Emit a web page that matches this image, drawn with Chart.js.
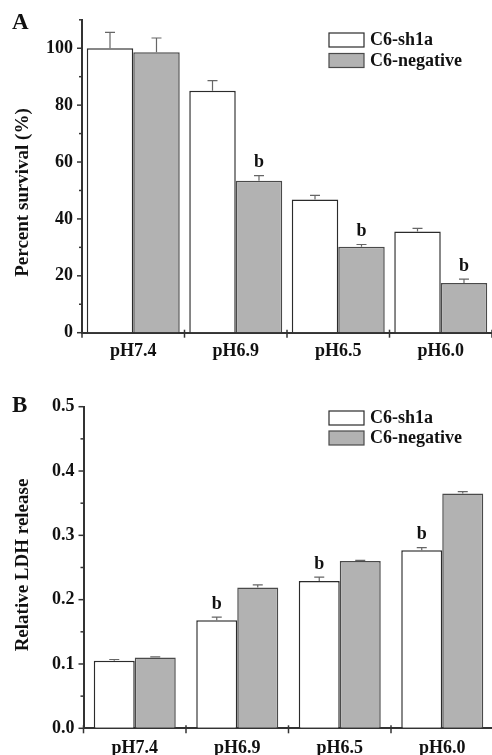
<!DOCTYPE html>
<html><head><meta charset="utf-8">
<script src="https://cdn.jsdelivr.net/npm/chart.js@4.4.1/dist/chart.umd.min.js"></script>
<style>
html,body{margin:0;padding:0;overflow:hidden;background:#fff;width:492px;height:755px;position:relative}
canvas{position:absolute;left:0}
#ca{top:0}
#cb{top:377px}
</style>
</head><body>
<canvas id="ca" width="492" height="377"></canvas>
<canvas id="cb" width="496" height="378"></canvas>
<script>
// ---- data ----
const categories = ['pH7.4', 'pH6.9', 'pH6.5', 'pH6.0'];
const seriesNames = ['C6-sh1a', 'C6-negative'];

const survivalSh1a = [100, 85.1, 46.8, 35.6];
const survivalSh1aErr = [5.6, 3.5, 1.5, 1.1];
const survivalNeg = [98.6, 53.4, 30.2, 17.5];
const survivalNegErr = [5.0, 1.8, 0.8, 1.3];
const survivalSh1aMarks = ['', '', '', ''];
const survivalNegMarks = ['', 'b', 'b', 'b'];

const ldhSh1a = [0.105, 0.168, 0.229, 0.277];
const ldhSh1aErr = [0.002, 0.005, 0.006, 0.004];
const ldhNeg = [0.110, 0.219, 0.260, 0.365];
const ldhNegErr = [0.001, 0.004, 0.001, 0.003];
const ldhSh1aMarks = ['', 'b', 'b', 'b'];
const ldhNegMarks = ['', '', '', ''];

const survivalTitle = 'Percent survival (%)';
const ldhTitle = 'Relative LDH release';

// ---- style ----
const FONT = '"Liberation Serif", "Times New Roman", serif';
const WHITE = '#ffffff', WHITE_BORDER = '#2b2b2b';
const GRAY = '#b2b2b2', GRAY_BORDER = '#4a4a4a';
const AXIS = '#333333';

const decor = {
  id: 'decor',
  afterDraw(chart, args, o) {
    const ctx = chart.ctx, ca = chart.chartArea;
    const ys = chart.scales.y, xs = chart.scales.x;
    ctx.save();
    // y ticks (major/minor)
    ctx.strokeStyle = AXIS; ctx.lineWidth = 1.5;
    ys.ticks.forEach(t => {
      const y = ys.getPixelForValue(t.value);
      const major = t.label !== '' && t.label !== undefined;
      ctx.beginPath(); ctx.moveTo(ca.left - (major ? 5 : 3), y); ctx.lineTo(ca.left, y); ctx.stroke();
    });
    // x ticks at category boundaries
    const n = chart.data.labels.length;
    const half = (xs.getPixelForValue(1) - xs.getPixelForValue(0)) / 2;
    for (let i = 0; i <= n; i++) {
      const x = (i < n ? xs.getPixelForValue(i) - half : xs.getPixelForValue(n - 1) + half);
      ctx.beginPath(); ctx.moveTo(x, ca.bottom - 3); ctx.lineTo(x, ca.bottom + 5); ctx.stroke();
    }
    // error bars and marks
    chart.data.datasets.forEach((ds, di) => {
      const meta = chart.getDatasetMeta(di);
      meta.data.forEach((el, i) => {
        const top = ys.getPixelForValue(ds.data[i] + ds.errors[i]);
        ctx.strokeStyle = '#666'; ctx.lineWidth = 1.2;
        ctx.beginPath();
        ctx.moveTo(el.x, el.y); ctx.lineTo(el.x, top);
        ctx.moveTo(el.x - 5, top); ctx.lineTo(el.x + 5, top);
        ctx.stroke();
        if (ds.marks[i]) {
          ctx.fillStyle = '#111'; ctx.font = 'bold 18px ' + FONT;
          ctx.textAlign = 'center'; ctx.textBaseline = 'middle';
          ctx.fillText(ds.marks[i], el.x, top - 13);
        }
      });
    });
    // legend
    const L = o.legend;
    chart.data.datasets.forEach((ds, di) => {
      const y = L.y + di * L.dy;
      ctx.fillStyle = ds.backgroundColor; ctx.strokeStyle = ds.borderColor; ctx.lineWidth = 1.2;
      ctx.fillRect(L.x, y, 35, 14); ctx.strokeRect(L.x, y, 35, 14);
      ctx.fillStyle = '#111'; ctx.font = 'bold 18px ' + FONT;
      ctx.textAlign = 'left'; ctx.textBaseline = 'middle';
      ctx.fillText(ds.label, L.x + 41, y + 7.5);
    });
    // panel letter
    ctx.fillStyle = '#111'; ctx.font = 'bold 23px ' + FONT;
    ctx.textAlign = 'left'; ctx.textBaseline = 'alphabetic';
    ctx.fillText(o.letter, o.letterX, o.letterY);
    // y title
    ctx.save();
    ctx.translate(o.titleX, o.titleY); ctx.rotate(-Math.PI / 2);
    ctx.font = 'bold 19px ' + FONT; ctx.textAlign = 'center'; ctx.textBaseline = 'middle';
    ctx.fillText(o.title, 0, 0);
    ctx.restore();
    ctx.restore();
  }
};

function makeChart(id, cfg) {
  return new Chart(document.getElementById(id), {
    type: 'bar',
    data: {
      labels: categories,
      datasets: [
        { label: seriesNames[0], data: cfg.a, errors: cfg.aErr, marks: cfg.aMarks,
          backgroundColor: WHITE, borderColor: WHITE_BORDER, borderWidth: 1.5 },
        { label: seriesNames[1], data: cfg.b, errors: cfg.bErr, marks: cfg.bMarks,
          backgroundColor: GRAY, borderColor: GRAY_BORDER, borderWidth: 1.5 }
      ]
    },
    options: {
      responsive: false, animation: false, devicePixelRatio: 1,
      layout: { padding: cfg.padding },
      datasets: { bar: { categoryPercentage: cfg.catPct, barPercentage: 1 } },
      plugins: {
        legend: { display: false }, tooltip: { enabled: false },
        decor: cfg.decor
      },
      scales: {
        x: {
          grid: { display: true, drawOnChartArea: false, drawTicks: false },
          border: { display: true, color: AXIS, width: 2 },
          ticks: { color: '#111', font: { family: FONT, size: 18, weight: 'bold' }, padding: cfg.xPad },
          afterFit: s => { s.height = cfg.xH; }
        },
        y: {
          min: cfg.min, max: cfg.max,
          grid: { display: true, drawOnChartArea: false, drawTicks: false },
          border: { display: true, color: AXIS, width: 2 },
          ticks: {
            stepSize: cfg.step, color: '#111', padding: 9,
            font: { family: FONT, size: 18, weight: 'bold' },
            callback: cfg.tickCb
          },
          afterFit: s => { s.width = cfg.yW; }
        }
      }
    },
    plugins: [decor]
  });
}

makeChart('ca', {
  a: survivalSh1a, aErr: survivalSh1aErr, aMarks: survivalSh1aMarks,
  b: survivalNeg, bErr: survivalNegErr, bMarks: survivalNegMarks,
  padding: { left: 0, top: 12, right: 0, bottom: 0 },
  catPct: 0.907, min: 0, max: 110, step: 10,
  tickCb: v => (Math.round(v) % 20 === 0 ? String(Math.round(v)) : ''),
  xH: 44.3, yW: 82, xPad: 8,
  decor: { legend: { x: 329, y: 33, dy: 20.5 }, letter: 'A', letterX: 12, letterY: 28.5,
           title: survivalTitle, titleX: 23, titleY: 192.5 }
});

makeChart('cb', {
  a: ldhSh1a, aErr: ldhSh1aErr, aMarks: ldhSh1aMarks,
  b: ldhNeg, bErr: ldhNegErr, bMarks: ldhNegMarks,
  padding: { left: 0, top: 29.7, right: 2.5, bottom: 0 },
  catPct: 0.8, min: 0, max: 0.5, step: 0.05,
  tickCb: v => (Math.round(v * 100) % 10 === 0 ? v.toFixed(1) : ''),
  xH: 26.7, yW: 83.5, xPad: 9,
  decor: { legend: { x: 329, y: 34, dy: 20 }, letter: 'B', letterX: 12, letterY: 34.7,
           title: ldhTitle, titleX: 23, titleY: 188 }
});
</script>
</body></html>
